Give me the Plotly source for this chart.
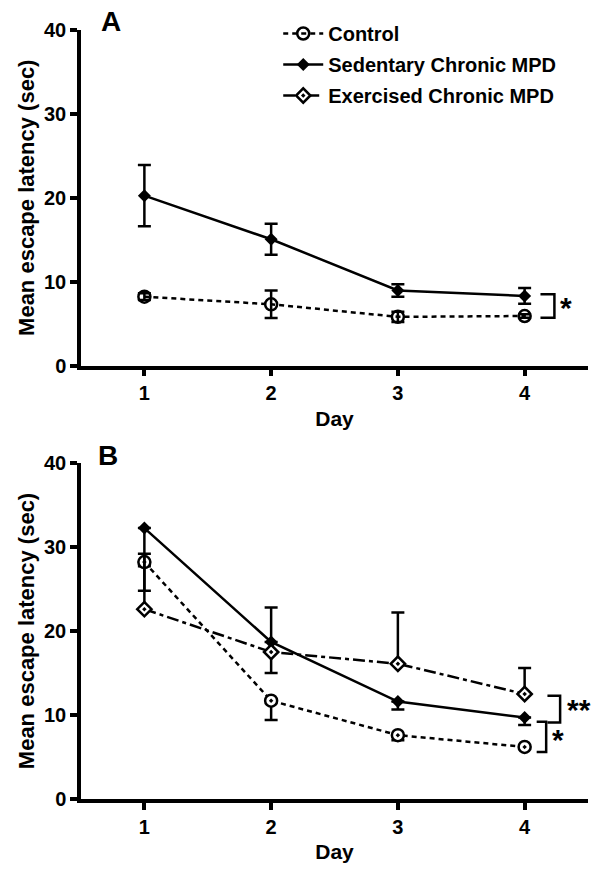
import plotly.graph_objects as go

days = [1, 2, 3, 4]

# Panel A
control_A = [8.2, 7.3, 5.8, 5.9]
control_A_err = [0.4, 1.65, 0.6, 0.2]
sed_A = [20.25, 15.05, 8.95, 8.3]
sed_A_err = [3.65, 1.85, 0.75, 0.95]

# Panel B
control_B = [28.2, 11.7, 7.6, 6.2]
control_B_err_minus = [0.5, 2.3, 0.6, 0.2]
sed_B = [32.25, 18.7, 11.6, 9.7]
sed_B_err_minus = [7.45, 3.7, 0.95, 0.9]
exer_B = [22.6, 17.5, 16.1, 12.5]
exer_B_err_plus = [6.6, 5.3, 6.1, 3.1]

yticks = [0, 10, 20, 30, 40]
xticks = [1, 2, 3, 4]

FONT = "Liberation Sans"
BLACK = "#000000"

ctrl_dash = "5px,4px"
exer_dash = "12px,4px,4px,4px"

fig = go.Figure()

def err(arr=None, arrminus=None, symmetric=True):
    d = dict(type="data", color=BLACK, thickness=2.5, width=6.5, visible=True)
    if symmetric:
        d.update(array=arr, symmetric=True)
    else:
        d.update(array=arr if arr is not None else [0]*4,
                 arrayminus=arrminus if arrminus is not None else [0]*4,
                 symmetric=False)
    return d

# Panel A traces
fig.add_trace(go.Scatter(
    x=days, y=control_A, name="Control", mode="lines+markers", legendgroup="c",
    line=dict(color=BLACK, width=2.5, dash=ctrl_dash),
    marker=dict(symbol="circle-open", size=12, color=BLACK, line=dict(width=2.5)),
    error_y=err(control_A_err), xaxis="x", yaxis="y", legendrank=1))
fig.add_trace(go.Scatter(
    x=days, y=sed_A, name="Sedentary Chronic MPD", mode="lines+markers", legendgroup="s",
    line=dict(color=BLACK, width=2.5),
    marker=dict(symbol="diamond", size=10, color=BLACK),
    error_y=err(sed_A_err), xaxis="x", yaxis="y", legendrank=2))

# Panel B traces
fig.add_trace(go.Scatter(
    x=days, y=control_B, name="Control", mode="lines+markers", showlegend=False, legendgroup="c",
    line=dict(color=BLACK, width=2.5, dash=ctrl_dash),
    marker=dict(symbol="circle-dot", size=12, color="white", line=dict(width=2.5, color=BLACK)),
    error_y=err(arrminus=control_B_err_minus, symmetric=False), xaxis="x2", yaxis="y2"))
fig.add_trace(go.Scatter(
    x=days, y=sed_B, name="Sedentary Chronic MPD", mode="lines+markers", showlegend=False, legendgroup="s",
    line=dict(color=BLACK, width=2.5),
    marker=dict(symbol="diamond", size=10, color=BLACK),
    error_y=err(arrminus=sed_B_err_minus, symmetric=False), xaxis="x2", yaxis="y2"))
fig.add_trace(go.Scatter(
    x=days, y=exer_B, name="Exercised Chronic MPD", mode="lines+markers", legendgroup="e",
    line=dict(color=BLACK, width=2.5, dash=exer_dash),
    marker=dict(symbol="diamond-dot", size=11, color="white", line=dict(width=2.5, color=BLACK)),
    error_y=err(arr=exer_B_err_plus, symmetric=False), xaxis="x2", yaxis="y2", legendrank=3))

axis_common = dict(
    showline=True, linecolor=BLACK, linewidth=3.5, ticks="outside", ticklen=7,
    tickwidth=3.5, tickcolor=BLACK, showgrid=False, zeroline=False, automargin=False,
    tickfont=dict(family=FONT, size=20, color=BLACK, weight="bold"),
)
xaxis_common = dict(axis_common, range=[0.5, 4.5], tickmode="array", tickvals=xticks,
                    title=dict(text="<b>Day</b>", font=dict(family=FONT, size=21, color=BLACK), standoff=9))
yaxis_common = dict(axis_common, range=[0, 40], tickmode="array", tickvals=yticks,
                    title=dict(text="<b>Mean escape latency (sec)</b>", font=dict(family=FONT, size=22, color=BLACK), standoff=4))

T, B = 30, 72
H = 871 - T - B

fig.update_layout(
    width=600, height=871,
    margin=dict(l=81, r=12, t=T, b=B, autoexpand=False),
    paper_bgcolor="white", plot_bgcolor="white",
    xaxis=dict(xaxis_common, domain=[0, 1], anchor="y"),
    yaxis=dict(yaxis_common, domain=[(871 - B - 365.5) / H, 1], anchor="x"),
    xaxis2=dict(xaxis_common, domain=[0, 1], anchor="y2"),
    yaxis2=dict(yaxis_common, domain=[0, (871 - B - 463) / H], anchor="x2"),
    legend=dict(x=0.389, y=(871 - B - 14) / H, xanchor="left", yanchor="top",
                font=dict(family=FONT, size=20, color=BLACK, weight="bold"),
                bgcolor="rgba(0,0,0,0)", traceorder="grouped", itemwidth=40,
                tracegroupgap=2),
    showlegend=True,
)

# significance brackets: (xref, yref, x_left, x_right, y_top, y_bottom, label, label_x, label_y)
brackets = [
    ("x", "y", 4.125, 4.235, 8.5, 5.7, "*", 4.33, 6.9),
    ("x2", "y2", 4.18, 4.28, 12.3, 9.1, "**", 4.43, 10.6),
    ("x2", "y2", 4.095, 4.17, 9.2, 5.6, "*", 4.265, 7.1),
]
for xr, yr, xl, xrt, yt, yb, lab, lx, ly in brackets:
    fig.add_shape(type="path", xref=xr, yref=yr,
                  path=f"M {xl},{yt} L {xrt},{yt} L {xrt},{yb} L {xl},{yb}",
                  line=dict(color=BLACK, width=2.5))
    fig.add_annotation(x=lx, y=ly, xref=xr, yref=yr, text=f"<b>{lab}</b>", showarrow=False,
                       font=dict(family=FONT, size=30, color=BLACK))

# panel letters
for lab, px, py in [("A", 111, 22), ("B", 108, 455)]:
    fig.add_annotation(
        x=(px - 81) / 507, y=(871 - B - py) / H,
        xref="paper", yref="paper", text=f"<b>{lab}</b>", showarrow=False,
        xanchor="center", yanchor="middle",
        font=dict(family=FONT, size=28, color=BLACK))

fig.write_html("out.html", config={"displayModeBar": False},
               post_script="document.body.style.margin='0';document.body.style.overflow='hidden';")
